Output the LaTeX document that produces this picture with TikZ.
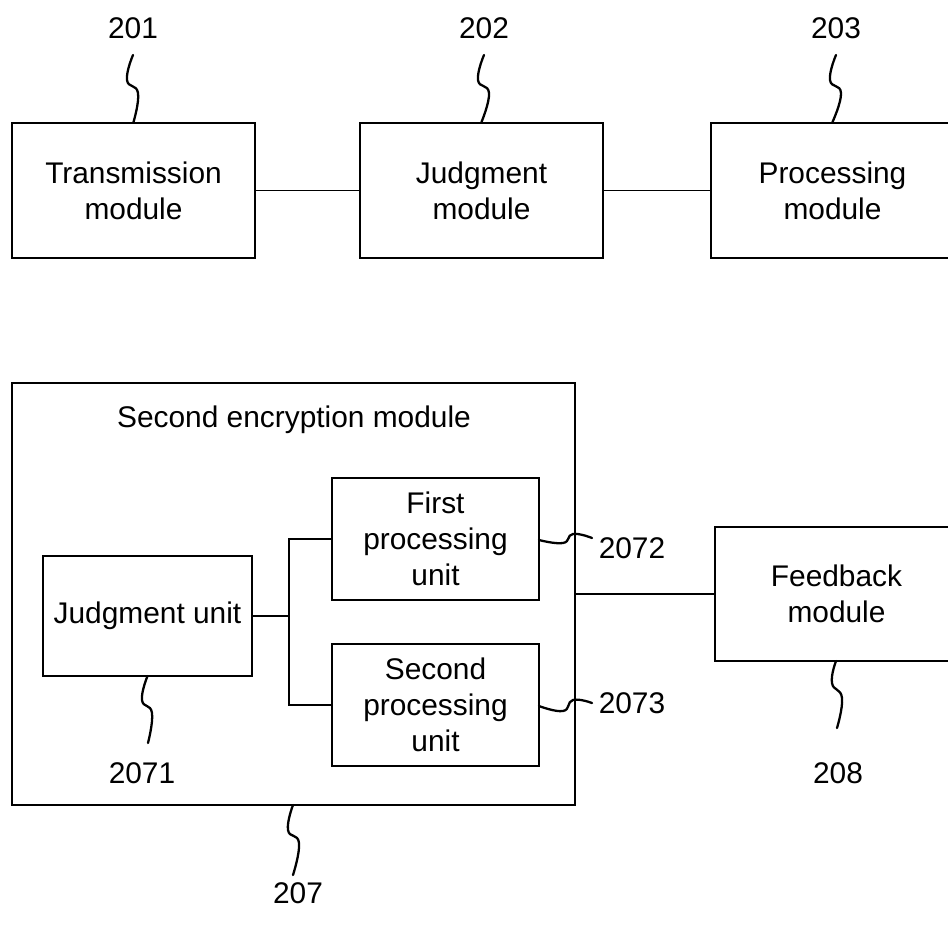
\documentclass[tikz,border=0pt]{standalone}
\usepackage{fontspec}
\setmainfont{Liberation Sans}
\usetikzlibrary{calc}

\begin{document}
\begin{tikzpicture}[
        x=0.02cm, y=-0.02cm,
        every node/.style={font=\fontsize{17}{20.5}\selectfont, color=black},
        box/.style={draw, line width=1.1pt, align=center, inner sep=0pt},
        modbox/.style={box, minimum width=4.86cm, minimum height=2.7cm},
        leader/.style={line width=1.3pt, line cap=round},
        refnum/.style={inner sep=1pt},
    ]

    \path[use as bounding box, clip] (0,0) rectangle (948,937);

    % upper row
    \node[modbox] (trans) at (133.5,190.5) {Transmission\\module};
    \node[modbox] (judge) at (481.5,190.5) {Judgment\\module};
    \node[modbox] (proc)  at (832.5,190.5) {Processing\\module};

    \draw[line width=1.1pt] (trans.east) -- (judge.west);
    \draw[line width=1.1pt] (judge.east) -- (proc.west);

    \node[refnum] (n201) at (133,28) {201};
    \node[refnum] (n202) at (484,28) {202};
    \node[refnum] (n203) at (836,28) {203};

    \draw[leader] plot[smooth, tension=0.8] coordinates
        {(133,55) (127,80) (138,93) (trans.north)};
    \draw[leader] plot[smooth, tension=0.8] coordinates
        {(484,55) (478,80) (489,93) (judge.north)};
    \draw[leader] plot[smooth, tension=0.8] coordinates
        {(836,55) (830,80) (841,93) (proc.north)};

    % second encryption module
    \node[box, minimum width=11.26cm, minimum height=8.44cm] (secenc) at (293.5,594) {};
    \node (title) at (294,420) {Second encryption module};

    \node[box, minimum width=4.18cm, minimum height=2.4cm] (junit) at (147.5,616) {Judgment unit};
    \node[box, minimum width=4.14cm, minimum height=2.44cm] (first) at (435.5,539) {First\\processing\\unit};
    \node[box, minimum width=4.14cm, minimum height=2.44cm] (second) at (435.5,705) {Second\\processing\\unit};

    \draw[line width=1.1pt] (junit.east) -- ++(36,0) coordinate (fork);
    \draw[line width=1.1pt] (first.west) -| (fork) |- (second.west);

    \node[modbox, minimum height=2.68cm] (feed) at (836.5,594) {Feedback\\module};
    \draw[line width=1.1pt] (secenc.east) -- (feed.west);

    \node[refnum] (n2071) at (142,773) {2071};
    \node[refnum] (n2072) at (632,548) {2072};
    \node[refnum] (n2073) at (632,703) {2073};
    \node[refnum] (n207)  at (298,893) {207};
    \node[refnum] (n208)  at (838,773) {208};

    \draw[leader] plot[smooth, tension=0.8] coordinates
        {(147.5,676) (142,700) (152,713) (148,743)};
    \draw[leader] plot[smooth, tension=0.8] coordinates
        {(539,540) (563,543) (573,534) (592,538)};
    \draw[leader] plot[smooth, tension=0.8] coordinates
        {(539,706) (563,711) (573,700) (592,703)};
    \draw[leader] plot[smooth, tension=0.8] coordinates
        {(293,805) (288,830) (299,843) (293,875)};
    \draw[leader] plot[smooth, tension=0.8] coordinates
        {(836,661) (832,683) (842,698) (837,728)};

\end{tikzpicture}
\end{document}
